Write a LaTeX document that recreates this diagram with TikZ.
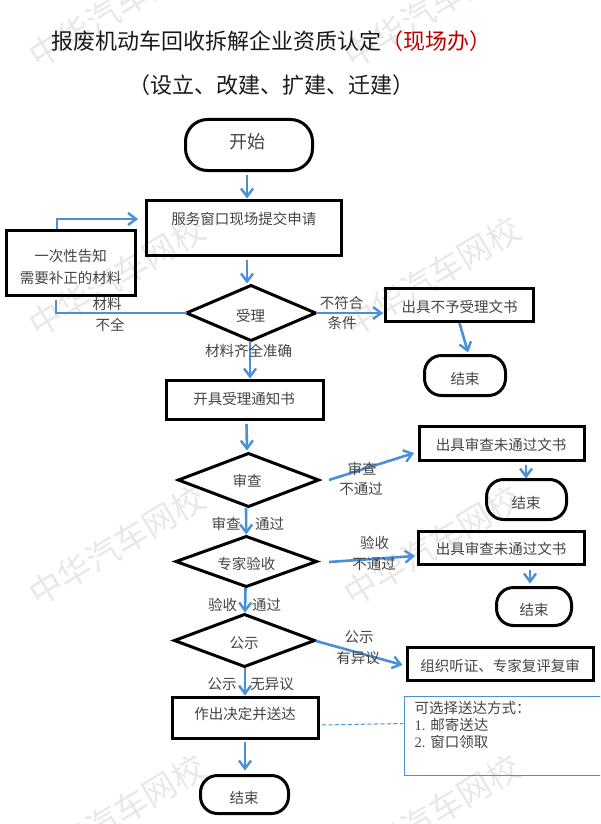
\documentclass[tikz,border=0pt]{standalone}
\usepackage{fontspec}
\setmainfont{Noto Sans CJK SC}
\newfontfamily\latinser{Liberation Serif}
\usetikzlibrary{arrows.meta,shapes.geometric}
\definecolor{flowblue}{HTML}{4A90D6}
\definecolor{inktext}{HTML}{444444}
\definecolor{marktext}{HTML}{E8E8E8}
\definecolor{titlered}{HTML}{C00000}
\newcommand\off[3]{\makebox[0pt]{\hspace*{\dimexpr 2\dimexpr #1pt\relax\relax}\smash{\raisebox{\dimexpr -#2pt - 0.45em\relax}{#3}}}}
\newlength\lwb
\setlength\lwb{3pt}
% style, name, x1, y1, x2, y2, dx, dy, text (outer extents of the stroke)
\newcommand\placed[9]{%
  \pgfmathsetmacro\pcx{(#3+#5)/2}%
  \pgfmathsetmacro\pcy{(#4+#6)/2}%
  \pgfmathsetmacro\pw{#5-#3-3}%
  \pgfmathsetmacro\ph{#6-#4-3}%
  \node[#1,minimum width=\pw pt,minimum height=\ph pt] (#2) at (\pcx,\pcy) {\off{#7}{#8}{#9}};%
}
\tikzset{
  x=1pt,y=-1pt,
  basenode/.style={draw=black,line width=\lwb,inner sep=0pt,outer sep=0pt,text=inktext,font=\fontsize{14.5}{17}\selectfont},
  pbox/.style={basenode,rectangle},
  pdia/.style={basenode,diamond,aspect=2.4},
  pterm/.style={basenode,rectangle,rounded corners=17pt},
  pstart/.style={basenode,rectangle,rounded corners=22pt},
  flow/.style={draw=flowblue,line width=2.6pt,-{Straight Barb[length=8pt,width=12pt,line width=2.4pt]}},
  flowplain/.style={draw=flowblue,line width=2.6pt},
  dashlink/.style={draw=flowblue,line width=1pt,dash pattern=on 4pt off 2.5pt},
  notebox/.style={draw=flowblue,line width=1pt,rectangle,inner sep=0pt,outer sep=0pt},
  lab/.style={text=inktext,font=\fontsize{14.5}{17}\selectfont,inner sep=0pt},
  heading/.style={text=black!90,font=\fontsize{22}{26}\selectfont,inner sep=0pt},
  wmark/.style={text=marktext,font=\fontsize{33}{38}\selectfont,inner sep=0pt,rotate=31}
}
\begin{document}
\begin{tikzpicture}
\useasboundingbox (0,0) rectangle (600,824);
\clip (0,0) rectangle (600,824);
% watermark
\node[wmark] (w1) at (117,8) {中华汽车网校};
\node[wmark] (w2) at (432,8) {中华汽车网校};
\node[wmark] (w3) at (117,277) {中华汽车网校};
\node[wmark] (w4) at (432,277) {中华汽车网校};
\node[wmark] (w5) at (117,546) {中华汽车网校};
\node[wmark] (w6) at (432,546) {中华汽车网校};
\node[wmark] (w7) at (117,815) {中华汽车网校};
\node[wmark] (w8) at (432,815) {中华汽车网校};
% title
\node[heading,anchor=west] (t1) at (51,41.5) {报废机动车回收拆解企业资质认定\textcolor{titlered}{（现场办）}};
\node[heading] (t2) at (271,85) {（设立、改建、扩建、迁建）};
% shapes
\placed{pstart}{start}{184}{118}{314}{172}{-1.5}{-3}{\fontsize{18}{20}\selectfont 开始}
\placed{pbox}{srv}{145}{199}{342.5}{257}{0}{-10}{服务窗口现场提交申请}
\placed{pbox}{fix}{4.5}{229}{136.5}{297}{0}{0}{\off{0}{-15}{一次性告知}\off{0}{7}{需要补正的材料}}
\placed{pdia}{sl}{185}{284}{317}{342}{-.5}{2}{受理}
\placed{pbox}{notok}{384}{287}{535}{323}{0}{1}{出具不予受理文书}
\placed{pterm}{endA}{423}{354}{507}{397}{0}{2.5}{结束}
\placed{pbox}{issue}{164.5}{379}{324.5}{421}{-.5}{-2}{开具受理通知书}
\placed{pdia}{rev}{177}{452}{320}{508}{-1.5}{0}{审查}
\placed{pbox}{docA}{418}{425}{586}{462}{-1}{.5}{出具审查未通过文书}
\placed{pterm}{endB}{485}{478}{568}{521}{-.5}{2.5}{结束}
\placed{pdia}{exp}{174.5}{535}{318}{588}{0}{1.5}{专家验收}
\placed{pbox}{docB}{417}{530}{586}{566}{-.5}{0}{出具审查未通过文书}
\placed{pterm}{endC}{495}{586}{573}{627}{0}{2.5}{结束}
\placed{pdia}{pub}{173}{613}{316}{668}{-.5}{1.5}{公示}
\placed{pbox}{hear}{406}{646}{595}{682}{-.5}{1}{组织听证、专家复评复审}
\placed{pbox}{dec}{171}{696}{320}{740}{-.5}{-5}{作出决定并送达}
\placed{pterm}{endD}{199}{774}{290}{815}{-.5}{2.5}{结束}
\node[notebox,minimum width=216pt,minimum height=79pt] (note) at (512,735.5) {};
\node[lab,anchor=west,align=left] (notetext) at (414.5,725) {可选择送达方式：\\{\latinser 1. }邮寄送达\\{\latinser 2. }窗口领取};
% connectors
\draw[flow] ([shift={(-2,4.5)}]start.south) -- ([shift={(3.25,-2)}]srv.north);
\draw[flow] ([shift={(3.25,4.5)}]srv.south) -- ([shift={(-4,-2)}]sl.north);
\draw[flow] ([shift={(-13.5,-1.5)}]fix.north) |- ([shift={(-8.5,-9)}]srv.west);
\draw[flowplain] (sl.west) -| ([shift={(-14.5,4.25)}]fix.south);
\draw[flow] (sl.east) -- ([shift={(-2.5,8)}]notok.west);
\draw[flow] ([shift={(0,1.5)}]notok.south) -- ([shift={(3,-3)}]endA.north);
\draw[flow] ([shift={(-1,0)}]sl.south) -- ([shift={(5.5,-2)}]issue.north);
\draw[flow] ([shift={(2,4.5)}]issue.south) -- ([shift={(-1.5,-3)}]rev.north);
\draw[flow] ([shift={(10.5,0)}]rev.east) -- ([shift={(-5.5,9.5)}]docA.west);
\draw[flow] ([shift={(24,4.5)}]docA.south) -- ([shift={(-.5,-1)}]endB.north);
\draw[flow] ([shift={(-2.5,1.5)}]rev.south) -- ([shift={(0,-2)}]exp.north);
\draw[flow] ([shift={(12.5,.5)}]exp.east) -- ([shift={(-3.5,8)}]docB.west);
\draw[flow] ([shift={(28.5,5.5)}]docB.south) -- ([shift={(-4,-4)}]endC.north);
\draw[flow] ([shift={(-.75,1.5)}]exp.south) -- ([shift={(.5,-2)}]pub.north);
\draw[flow] ([shift={(1.5,.5)}]pub.east) -- ([shift={(-5,1)}]hear.west);
\draw[flow] ([shift={(.5,1.5)}]pub.south) -- ([shift={(-.5,-2)}]dec.north);
\draw[flow] ([shift={(-.5,3.5)}]dec.south) -- ([shift={(.5,-5)}]endD.north);
\draw[dashlink] ([shift={(3.5,7)}]dec.east) -- ([shift={(-1,-12)}]note.west);
% connector labels
\node[lab] (a1) at (107,304) {材料};
\node[lab] (a2) at (110,325) {不全};
\node[lab] (b1) at (341.5,303) {不符合};
\node[lab] (b2) at (342,323) {条件};
\node[lab] (c1) at (248.5,351) {材料齐全准确};
\node[lab] (d1) at (362,469) {审查};
\node[lab] (d2) at (361,489) {不通过};
\node[lab] (e1) at (226,524) {审查};
\node[lab] (e2) at (269.5,524) {通过};
\node[lab] (f1) at (374.5,543) {验收};
\node[lab] (f2) at (374,564) {不通过};
\node[lab] (g1) at (222.5,605) {验收};
\node[lab] (g2) at (266.5,605) {通过};
\node[lab] (h1) at (359,637) {公示};
\node[lab] (h2) at (358,658) {有异议};
\node[lab] (i1) at (222,684) {公示};
\node[lab] (i2) at (272,684) {无异议};
\end{tikzpicture}
\end{document}
